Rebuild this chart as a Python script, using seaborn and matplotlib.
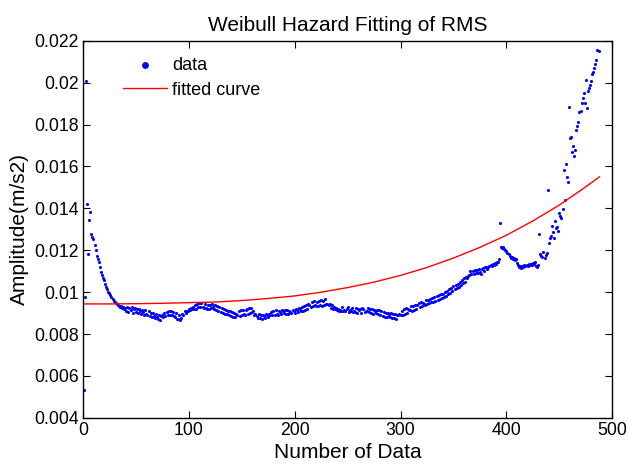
import numpy as np
import pandas as pd
import matplotlib
matplotlib.use("Agg")
import matplotlib.pyplot as plt
import matplotlib.ticker as ticker
import seaborn as sns

sns.set_style("ticks", {"text.color": "black", "axes.labelcolor": "black",
                        "xtick.color": "black", "ytick.color": "black"})
plt.rcParams['font.family'] = ['Liberation Sans', 'DejaVu Sans']

# RMS amplitude, one value per data number (1..487)
amplitude = [
    0.00534, 0.00978, 0.02010, 0.01422, 0.01183, 0.01345, 0.01382, 0.01279, 0.01262, 0.01255,
    0.01226, 0.01199, 0.01173, 0.01160, 0.01145, 0.01120, 0.01094, 0.01083, 0.01070, 0.01059,
    0.01037, 0.01026, 0.01016, 0.01003, 0.00995, 0.00985, 0.00977, 0.00968, 0.00960, 0.00953,
    0.00947, 0.00942, 0.00938, 0.00936, 0.00931, 0.00933, 0.00926, 0.00927, 0.00922, 0.00925,
    0.00912, 0.00931, 0.00905, 0.00924, 0.00913, 0.00929, 0.00903, 0.00920, 0.00926, 0.00907,
    0.00918, 0.00899, 0.00922, 0.00908, 0.00896, 0.00917, 0.00904, 0.00893, 0.00914, 0.00898,
    0.00891, 0.00909, 0.00886, 0.00902, 0.00880, 0.00899, 0.00884, 0.00875, 0.00897, 0.00880,
    0.00872, 0.00889, 0.00866, 0.00884, 0.00893, 0.00881, 0.00902, 0.00888, 0.00906, 0.00892,
    0.00908, 0.00893, 0.00911, 0.00890, 0.00905, 0.00886, 0.00882, 0.00899, 0.00874, 0.00870,
    0.00889, 0.00866, 0.00876, 0.00894, 0.00890, 0.00909, 0.00903, 0.00912, 0.00909, 0.00919,
    0.00915, 0.00924, 0.00918, 0.00931, 0.00921, 0.00939, 0.00920, 0.00943, 0.00927, 0.00946,
    0.00929, 0.00948, 0.00931, 0.00924, 0.00944, 0.00926, 0.00921, 0.00939, 0.00922, 0.00941,
    0.00923, 0.00943, 0.00927, 0.00919, 0.00940, 0.00915, 0.00933, 0.00911, 0.00929, 0.00907,
    0.00924, 0.00902, 0.00919, 0.00898, 0.00915, 0.00895, 0.00912, 0.00890, 0.00908, 0.00887,
    0.00904, 0.00883, 0.00899, 0.00880, 0.00897, 0.00891, 0.00911, 0.00887, 0.00914, 0.00893,
    0.00917, 0.00896, 0.00891, 0.00914, 0.00920, 0.00895, 0.00924, 0.00901, 0.00926, 0.00905,
    0.00910, 0.00891, 0.00894, 0.00888, 0.00879, 0.00896, 0.00876, 0.00893, 0.00873, 0.00891,
    0.00885, 0.00878, 0.00894, 0.00889, 0.00881, 0.00898, 0.00893, 0.00907, 0.00890, 0.00910,
    0.00893, 0.00913, 0.00896, 0.00891, 0.00911, 0.00905, 0.00897, 0.00915, 0.00909, 0.00900,
    0.00917, 0.00898, 0.00914, 0.00895, 0.00912, 0.00907, 0.00899, 0.00916, 0.00912, 0.00903,
    0.00920, 0.00915, 0.00905, 0.00923, 0.00919, 0.00910, 0.00929, 0.00912, 0.00933, 0.00915,
    0.00938, 0.00922, 0.00944, 0.00939, 0.00930, 0.00955, 0.00935, 0.00958, 0.00938, 0.00933,
    0.00954, 0.00936, 0.00957, 0.00940, 0.00962, 0.00935, 0.00958, 0.00939, 0.00968, 0.00942,
    0.00945, 0.00938, 0.00942, 0.00923, 0.00941, 0.00920, 0.00927, 0.00922, 0.00925, 0.00914,
    0.00922, 0.00909, 0.00917, 0.00912, 0.00931, 0.00908, 0.00915, 0.00911, 0.00918, 0.00927,
    0.00907, 0.00913, 0.00909, 0.00926, 0.00905, 0.00910, 0.00906, 0.00924, 0.00903, 0.00921,
    0.00916, 0.00920, 0.00902, 0.00923, 0.00920, 0.00906, 0.00911, 0.00908, 0.00925, 0.00904,
    0.00922, 0.00901, 0.00918, 0.00897, 0.00915, 0.00908, 0.00899, 0.00917, 0.00896, 0.00914,
    0.00892, 0.00911, 0.00888, 0.00907, 0.00883, 0.00903, 0.00880, 0.00899, 0.00893, 0.00882,
    0.00901, 0.00878, 0.00897, 0.00876, 0.00895, 0.00873, 0.00892, 0.00889, 0.00895, 0.00892,
    0.00911, 0.00890, 0.00918, 0.00897, 0.00925, 0.00902, 0.00920, 0.00917, 0.00917, 0.00932,
    0.00912, 0.00935, 0.00915, 0.00941, 0.00920, 0.00937, 0.00948, 0.00928, 0.00952, 0.00932,
    0.00949, 0.00945, 0.00938, 0.00961, 0.00942, 0.00965, 0.00946, 0.00969, 0.00951, 0.00972,
    0.00955, 0.00976, 0.00959, 0.00981, 0.00963, 0.00985, 0.00968, 0.00989, 0.00972, 0.00993,
    0.00979, 0.01000, 0.00983, 0.01007, 0.00990, 0.01014, 0.00997, 0.01021, 0.01005, 0.01028,
    0.01013, 0.01034, 0.01018, 0.01041, 0.01025, 0.01049, 0.01033, 0.01057, 0.01042, 0.01066,
    0.01051, 0.01074, 0.01069, 0.01077, 0.01083, 0.01100, 0.01085, 0.01103, 0.01088, 0.01105,
    0.01090, 0.01107, 0.01092, 0.01109, 0.01094, 0.01089, 0.01110, 0.01116, 0.01102, 0.01120,
    0.01118, 0.01112, 0.01121, 0.01126, 0.01130, 0.01124, 0.01133, 0.01128, 0.01139, 0.01135,
    0.01143, 0.01146, 0.01158, 0.01330, 0.01216, 0.01210, 0.01218, 0.01205, 0.01199, 0.01196,
    0.01189, 0.01181, 0.01172, 0.01164, 0.01168, 0.01159, 0.01163, 0.01155, 0.01158, 0.01141,
    0.01128, 0.01122, 0.01125, 0.01117, 0.01123, 0.01120, 0.01129, 0.01124, 0.01131, 0.01127,
    0.01133, 0.01129, 0.01136, 0.01132, 0.01139, 0.01135, 0.01142, 0.01125, 0.01122, 0.01128,
    0.01279, 0.01183, 0.01174, 0.01168, 0.01194, 0.01165, 0.01178, 0.01189, 0.01489, 0.01234,
    0.01258, 0.01266, 0.01317, 0.01287, 0.01261, 0.01342, 0.01305, 0.01313, 0.01293, 0.01377,
    0.01362, 0.01353, 0.01398, 0.01584, 0.01441, 0.01611, 0.01551, 0.01528, 0.01886, 0.01735,
    0.01740, 0.01670, 0.01699, 0.01648, 0.01680, 0.01775, 0.01791, 0.01812, 0.01860, 0.01866,
    0.01905, 0.01926, 0.01950, 0.01903, 0.02014, 0.01879, 0.01962, 0.01974, 0.01990, 0.02010,
    0.02042, 0.02053, 0.02071, 0.02087, 0.02110, 0.02154, 0.02149,
]
data_num = np.arange(1, len(amplitude) + 1)

# fitted hazard curve, read at a few positions
fit_x = [0, 25, 50, 75, 100, 125, 150, 175, 200, 225, 250, 275,
         300, 325, 350, 375, 400, 425, 450, 475, 488]
fit_y = [0.00944, 0.00944, 0.00945, 0.00947, 0.00950, 0.00953, 0.00960, 0.00970,
         0.00982, 0.01000, 0.01022, 0.01048, 0.01080, 0.01118, 0.01163, 0.01214,
         0.01272, 0.01340, 0.01416, 0.01503, 0.01551]

x_ticks = [0, 100, 200, 300, 400, 500]
y_ticks = [0.004, 0.006, 0.008, 0.01, 0.012, 0.014, 0.016, 0.018, 0.02, 0.022]

df = pd.DataFrame({"n": data_num, "amp": amplitude})
fit = pd.DataFrame({"n": fit_x, "amp": fit_y})

fig = plt.figure(figsize=(6.28, 4.69), dpi=100)
ax = fig.add_axes([0.132, 0.109, 0.843, 0.804])

sns.scatterplot(data=df, x="n", y="amp", ax=ax, color="#0000ff", s=5,
                marker="o", linewidth=0, label="data")
sns.lineplot(data=fit, x="n", y="amp", ax=ax, color="#ff0000", lw=1,
             label="fitted curve")

ax.set_xlim(0, 500)
ax.set_ylim(0.004, 0.022)
ax.set_xticks(x_ticks)
ax.set_yticks(y_ticks)
ax.yaxis.set_major_formatter(ticker.FuncFormatter(lambda v, p: "%g" % v))
ax.tick_params(direction="in", length=5, width=0.8, top=True, right=True,
               labelsize=12.7, colors="black", pad=3)
for s in ax.spines.values():
    s.set_linewidth(1.0)
    s.set_color("black")

ax.set_title("Weibull Hazard Fitting of RMS", fontsize=15, pad=7, color="black")
ax.set_xlabel("Number of Data", fontsize=15, labelpad=3, color="black")
ax.set_ylabel("Amplitude(m/s2)", fontsize=15, labelpad=4, color="black")

leg = ax.legend(loc="upper left", bbox_to_anchor=(0.075, 0.958), frameon=False,
                fontsize=13, markerscale=2.2, handlelength=2.45, handletextpad=0.3,
                labelspacing=0.45, borderpad=0, borderaxespad=0)
for t in leg.get_texts():
    t.set_color("black")

fig.savefig("out.png", dpi=100)
